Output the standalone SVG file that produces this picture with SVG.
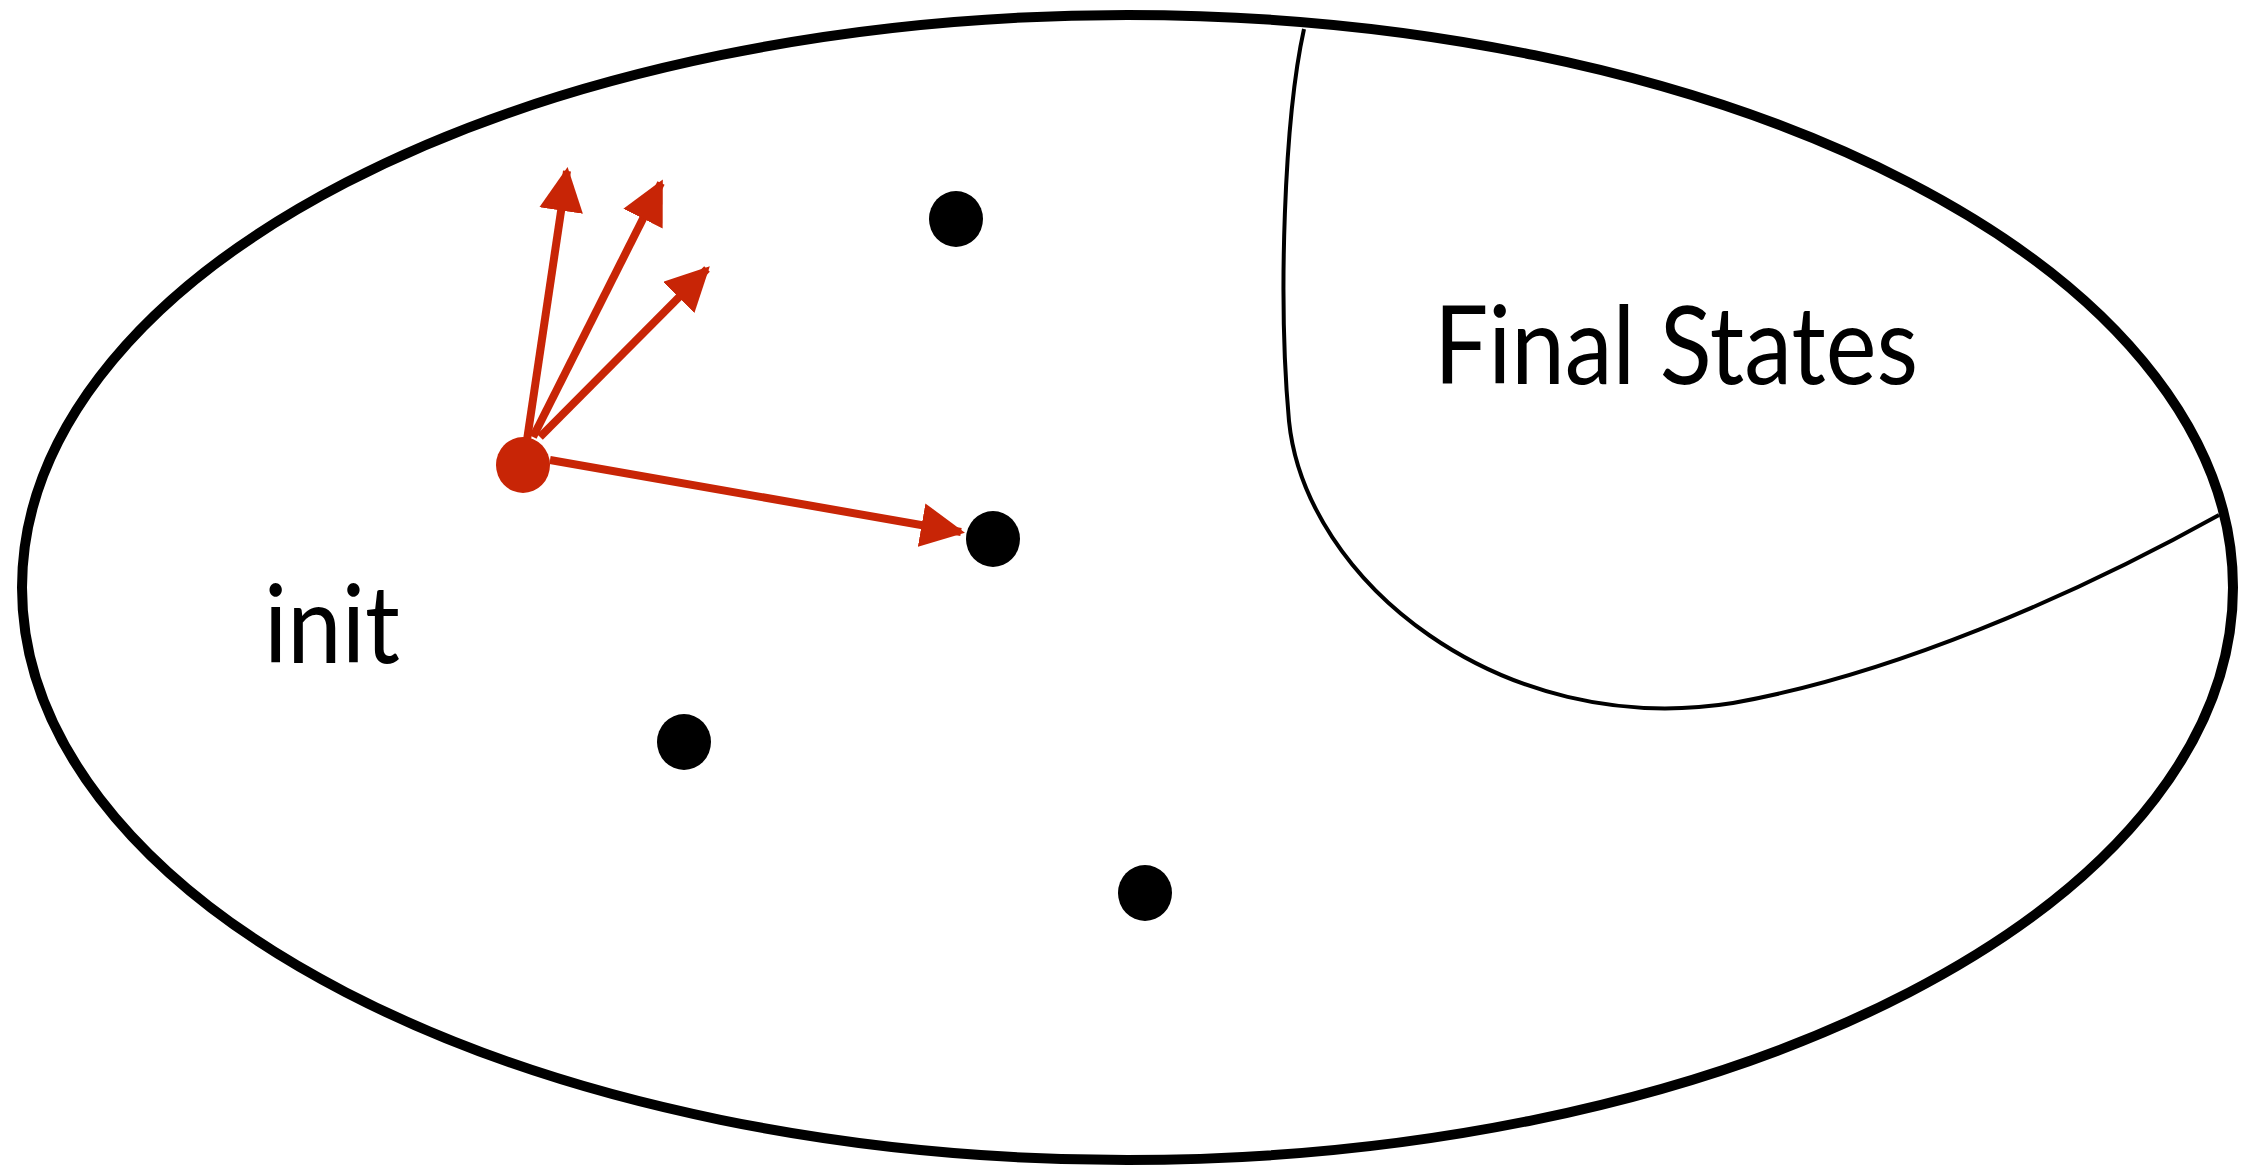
<svg xmlns="http://www.w3.org/2000/svg" width="2241" height="1166" viewBox="0 0 2241 1166">
<defs>
<style>
.lbl{font-family:"Lato","Liberation Sans",sans-serif;font-size:108px;fill:#000}
.edge{stroke:#C82506;stroke-width:8;fill:none;marker-end:url(#ah)}
.state{fill:#000}
.init{fill:#C82506}
</style>
<marker id="ah" markerUnits="userSpaceOnUse" markerWidth="44" markerHeight="44" viewBox="0 0 44 44" refX="40" refY="22" orient="auto">
<path d="M0,0 L44,22 L0,44 z" fill="#C82506"/>
</marker>
</defs>
<rect width="2241" height="1166" fill="#fff"/>
<g id="space">
<ellipse cx="1127.5" cy="587.5" rx="1105.5" ry="572.5" fill="none" stroke="#000" stroke-width="10"/>
<text class="lbl" x="264" y="663" textLength="136" lengthAdjust="spacingAndGlyphs">init</text>
</g>
<g id="final-states">
<path d="M1304,29 C1284,120 1278,300 1289,421 C1305,580 1500,740 1733,703 C1890,675 2070,598 2219,515" fill="none" stroke="#000" stroke-width="4"/>
<text class="lbl" x="1434" y="384" textLength="484" lengthAdjust="spacingAndGlyphs">Final States</text>
</g>
<g id="connectors">
<line class="edge" x1="527" y1="440" x2="567" y2="171"/>
<line class="edge" x1="533" y1="437" x2="661" y2="183"/>
<line class="edge" x1="540" y1="437" x2="707" y2="269"/>
<line class="edge" x1="550" y1="460" x2="961" y2="532"/>
</g>
<g id="n-init"><ellipse class="init" cx="523" cy="465" rx="27" ry="28"/></g>
<g id="n1"><ellipse class="state" cx="956" cy="219" rx="27" ry="28"/></g>
<g id="n2"><ellipse class="state" cx="993" cy="539" rx="27" ry="28"/></g>
<g id="n3"><ellipse class="state" cx="684" cy="742" rx="27" ry="28"/></g>
<g id="n4"><ellipse class="state" cx="1145" cy="893" rx="27" ry="28"/></g>
</svg>
